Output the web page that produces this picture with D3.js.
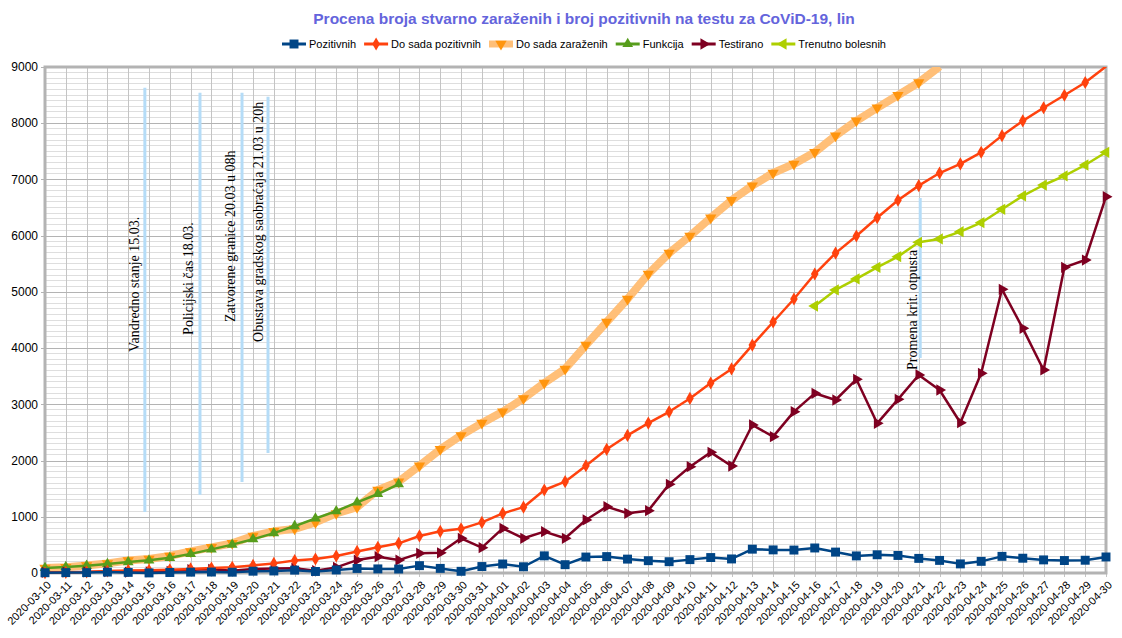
<!DOCTYPE html>
<html><head><meta charset="utf-8">
<script src="https://cdn.jsdelivr.net/npm/d3@7"></script>
<style>body{margin:0;background:#fff}svg{display:block}</style>
</head><body><svg id="c" width="1122" height="638"></svg>
<script>
const dates = ["2020-03-10","2020-03-11","2020-03-12","2020-03-13","2020-03-14","2020-03-15","2020-03-16","2020-03-17","2020-03-18","2020-03-19",
"2020-03-20","2020-03-21","2020-03-22","2020-03-23","2020-03-24","2020-03-25","2020-03-26","2020-03-27","2020-03-28","2020-03-29",
"2020-03-30","2020-03-31","2020-04-01","2020-04-02","2020-04-03","2020-04-04","2020-04-05","2020-04-06","2020-04-07","2020-04-08",
"2020-04-09","2020-04-10","2020-04-11","2020-04-12","2020-04-13","2020-04-14","2020-04-15","2020-04-16","2020-04-17","2020-04-18",
"2020-04-19","2020-04-20","2020-04-21","2020-04-22","2020-04-23","2020-04-24","2020-04-25","2020-04-26","2020-04-27","2020-04-28",
"2020-04-29","2020-04-30"];

const pozitivnih = [5,7,7,16,11,2,9,15,17,14, 32,36,51,27,54,81,73,71,131,82, 30,115,
 160,111,305,148,284,292,247,219,201,238, 275,250,424,411,408,445,372,304,324,312, 260,224,162,207,296,263,233,222,227,285];

const doSadaPozitivnih = [5,12,19,35,46,48,57,72,89,103, 135,171,222,249,303,384,457,528,659,741, 785,900,
 1060,1171,1476,1624,1908,2200,2447,2666,2867,3105, 3380,3630,4054,4465,4873,5318,5690,5994,6318,6630,
 6890,7114,7276,7483,7779,8042,8275,8497,8724,9009];

const doSadaZarazenih = [89,103,135,171,222,249,303,384,457,528, 659,741,785,900,1060,1171,1476,1624,1908,2200, 2447,2666,
 2867,3105,3380,3630,4054,4465,4873,5318,5690,5994, 6318,6630,6890,7114,7276,7483,7779,8042,8275,8497, 8724,9009];

const funkcija = [90,108,130,160,195,225,270,340,420,505, 600,710,835,970,1100,1255,1405,1580];

const testirano = [10,15,20,25,15,20,30,60,65,40, 70,80,85,40,100,230,290,230,350,360, 617,451,
 795,617,735,617,943,1180,1062,1109,1577,1891, 2146,1903,2633,2425,2870,3196,3077,3445,2662,3089,
 3522,3255,2673,3552,5046,4352,3611,5437,5567,6693];

const trenutnoStart = "2020-04-16";
const trenutnoBolesnih = [4749,5034,5230,5437,5627,5882,5941,6071,6231,6469,6706,6901,7062,7257,7483];

const yTicks = [0,1000,2000,3000,4000,5000,6000,7000,8000,9000];

const annotations = [
 {text:"Vandredno stanje 15.03.", lineIdx:4.8, lineTop:8630, lineBottom:1085, textIdx:4.28, textVal:3930},
 {text:"Policijski čas 18.03.", lineIdx:7.45, lineTop:8540, lineBottom:1390, textIdx:6.92, textVal:4235},
 {text:"Zatvorene granice 20.03 u 08h", lineIdx:9.47, lineTop:8540, lineBottom:1620, textIdx:8.9, textVal:4465},
 {text:"Obustava gradskog saobraćaja 21.03 u 20h", lineIdx:10.72, lineTop:8470, lineBottom:2135, textIdx:10.24, textVal:4110},
 {text:"Promena krit. otpusta", lineIdx:42.07, lineTop:6670, lineBottom:3825, textIdx:41.68, textVal:3610}
];

const W=1122,H=638, L=45, R=1106, T=67, B=573;
const svg = d3.select("#c");
const x = d3.scalePoint().domain(dates).range([L,R]).padding(0);
const step = x.step();
const xi = i => L + i*step;
const y = d3.scaleLinear().domain([0,9000]).range([B,T]);

// minor grid
const minor = d3.range(100,9000,100).filter(v=>v%1000!==0);
svg.append("g").selectAll("line").data(minor).join("line")
  .attr("x1",L).attr("x2",R).attr("y1",d=>y(d)).attr("y2",d=>y(d))
  .attr("stroke","#dedede").attr("stroke-width",1).attr("shape-rendering","crispEdges");
// vertical grid
svg.append("g").selectAll("line").data(dates).join("line")
  .attr("x1",d=>Math.round(x(d))+0.5).attr("x2",d=>Math.round(x(d))+0.5).attr("y1",T).attr("y2",B+4)
  .attr("stroke","#c4c4c4").attr("stroke-width",1);
// major grid
svg.append("g").selectAll("line").data(yTicks).join("line")
  .attr("x1",L-4).attr("x2",R).attr("y1",d=>Math.round(y(d))+0.5).attr("y2",d=>Math.round(y(d))+0.5)
  .attr("stroke","#b3b3b3").attr("stroke-width",1);
// border
svg.append("rect").attr("x",L).attr("y",T).attr("width",R-L).attr("height",B-T)
  .attr("fill","none").attr("stroke","#b3b3b3").attr("stroke-width",3);

// y labels
svg.append("g").selectAll("text").data(yTicks).join("text")
  .attr("x",L-7).attr("y",d=>y(d)).attr("dy","0.35em").attr("text-anchor","end")
  .attr("font-family","Liberation Sans, Arial, sans-serif").attr("font-size",12).attr("fill","#000")
  .text(d=>d);
// x labels
svg.append("g").selectAll("text").data(dates).join("text")
  .attr("transform",d=>`translate(${x(d)+4},${B+10}) rotate(-45)`)
  .attr("text-anchor","end").attr("dy","0.35em")
  .attr("font-family","Liberation Sans, Arial, sans-serif").attr("font-size",11).attr("fill","#000")
  .text(d=>d);

// annotations
const ag = svg.append("g");
annotations.forEach(a=>{
  ag.append("line").attr("x1",xi(a.lineIdx)).attr("x2",xi(a.lineIdx)).attr("y1",y(a.lineTop)).attr("y2",y(a.lineBottom))
    .attr("stroke","#b5dcf7").attr("stroke-width",3);
  ag.append("text").attr("transform",`translate(${xi(a.textIdx)},${y(a.textVal)}) rotate(-90)`)
    .attr("dominant-baseline","central").attr("text-anchor","start")
    .attr("font-family","Liberation Serif, Times New Roman, serif").attr("font-size",14).attr("fill","#000")
    .text(a.text);
});

svg.append("clipPath").attr("id","clip").append("rect").attr("x",L-10).attr("y",T).attr("width",R-L+20).attr("height",B-T+10);

const sym = (type,size,rot)=>({type,size,rot});
const series = [
 {name:"Do sada zaraženih", vals:doSadaZarazenih, start:0, line:"#ffbf78", lw:8, mcolor:"#ff950e", marker:sym(d3.symbolTriangle,55,180)},
 {name:"Funkcija", vals:funkcija, start:0, line:"#579d1c", lw:2.5, mcolor:"#579d1c", marker:sym(d3.symbolTriangle,50,0)},
 {name:"Testirano", vals:testirano, start:0, line:"#7e0021", lw:2.5, mcolor:"#7e0021", marker:sym(d3.symbolTriangle,55,90)},
 {name:"Do sada pozitivnih", vals:doSadaPozitivnih, start:0, line:"#ff420e", lw:2.5, mcolor:"#ff420e", marker:sym(d3.symbolDiamond,50,0)},
 {name:"Trenutno bolesnih", vals:trenutnoBolesnih, start:dates.indexOf(trenutnoStart), line:"#aecf00", lw:2.5, mcolor:"#aecf00", marker:sym(d3.symbolTriangle,55,-90)},
 {name:"Pozitivnih", vals:pozitivnih, start:0, line:"#004586", lw:2.5, mcolor:"#004586", marker:sym(d3.symbolSquare,80,0)}
];
const legendOrder = ["Pozitivnih","Do sada pozitivnih","Do sada zaraženih","Funkcija","Testirano","Trenutno bolesnih"];

const pg = svg.append("g").attr("clip-path","url(#clip)");
series.forEach(s=>{
  const pts = s.vals.map((v,i)=>({d:dates[s.start+i], v}));
  pg.append("path").datum(pts)
    .attr("d", d3.line().x(p=>x(p.d)).y(p=>y(p.v)))
    .attr("fill","none").attr("stroke",s.line).attr("stroke-width",s.lw).attr("stroke-linejoin","round");
  pg.append("g").selectAll("path").data(pts.filter(p=>p.v<=9000)).join("path")
    .attr("d", d3.symbol().type(s.marker.type).size(s.marker.size))
    .attr("transform",p=>`translate(${x(p.d)},${y(p.v)}) rotate(${s.marker.rot})`)
    .attr("fill",s.mcolor);
});

// title
svg.append("text").attr("x",584).attr("y",24).attr("text-anchor","middle")
  .attr("font-family","Liberation Sans, Arial, sans-serif").attr("font-weight","bold").attr("font-size",15.5)
  .attr("fill","#6464dc").text("Procena broja stvarno zaraženih i broj pozitivnih na testu za CoViD-19, lin");

// legend
const lg = svg.append("g");
let cx = 0;
legendOrder.forEach(n=>{
  const s = series.find(z=>z.name===n);
  const g = lg.append("g").attr("transform",`translate(${cx},0)`);
  g.append("line").attr("x1",0).attr("x2",24).attr("y1",0).attr("y2",0).attr("stroke",s.line).attr("stroke-width",s.lw===8?7:3);
  g.append("path").attr("d",d3.symbol().type(s.marker.type).size(s.marker.size))
    .attr("transform",`translate(12,0) rotate(${s.marker.rot})`).attr("fill",s.mcolor);
  const t = g.append("text").attr("x",27).attr("y",0).attr("dy","0.35em")
    .attr("font-family","Liberation Sans, Arial, sans-serif").attr("font-size",11).attr("fill","#000").text(n);
  cx += 27 + t.node().getComputedTextLength() + 8;
});
const lw = cx - 8;
lg.attr("transform",`translate(${584 - lw/2},44)`);
</script></body></html>
